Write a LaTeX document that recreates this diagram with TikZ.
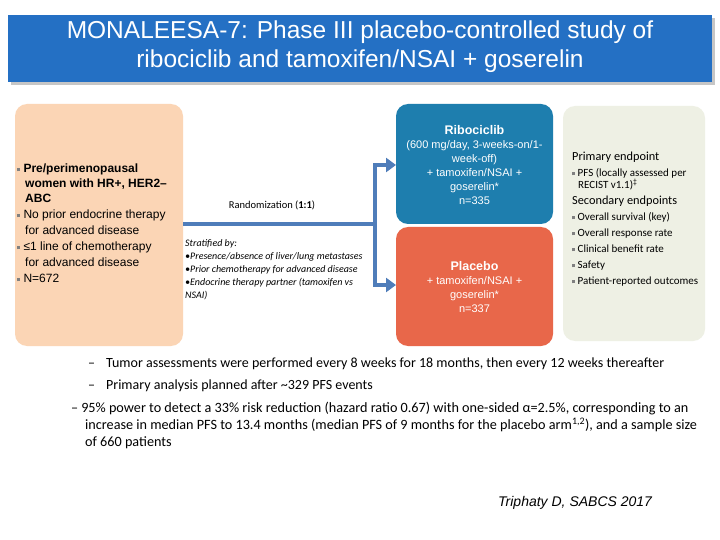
\documentclass[tikz,border=0pt]{standalone}
\usepackage{fontspec}
\setmainfont{Liberation Sans}
\newfontfamily\calfont{Carlito}
\usetikzlibrary{arrows.meta}
\definecolor{banner}{HTML}{2470C4}
\definecolor{peach}{HTML}{FBD5B5}
\definecolor{ribo}{HTML}{1E7EAE}
\definecolor{plac}{HTML}{E8674A}
\definecolor{endp}{HTML}{EEF0E4}
\definecolor{conn}{HTML}{4F7DBA}
\newcommand{\bsq}{\textcolor{gray}{\rule[0.25ex]{3pt}{3pt}}}
\tikzset{
  box/.style={rounded corners=12pt, inner sep=0pt},
  wtxt/.style={text=white, align=center, font=\fontsize{11}{14}\selectfont},
  conn/.style={draw=conn, line width=4pt},
  arr/.style={conn, -{Triangle[length=10pt,width=14pt]}},
}
\begin{document}
\begin{tikzpicture}[x=1pt,y=-1pt]
\useasboundingbox[fill=white] (0,0) rectangle (720,540);
% banner
\fill[gray!45] (11,18) rectangle (715,85);
\fill[banner] (8,15) rectangle (712,82);
\node[text=white, align=center, font=\fontsize{24.5}{29}\selectfont] (title) at (360,47) {MONALEESA-7: Phase III placebo-controlled study of\\ribociclib and tamoxifen/NSAI + goserelin};
% boxes
\fill[peach, box] (15,104) rectangle (183,346);
\coordinate (lb) at (183,224);
\fill[ribo, box] (396,104) rectangle (553,224);
\fill[plac, box] (396,227) rectangle (553,346);
\fill[endp, box] (563,106) rectangle (705,341);
\coordinate (rib) at (396,165);
\coordinate (pla) at (396,285);
% left text
\node[anchor=north west, align=left, inner sep=0pt, font=\fontsize{12}{16}\selectfont] (pop) at (17,164) {%
\bsq\ \textbf{Pre/perimenopausal}\\[-1pt]
\hspace*{8pt}\textbf{women with HR+, HER2–}\\[-1pt]
\hspace*{8pt}\textbf{ABC}\\
\bsq\ No prior endocrine therapy\\
\hspace*{8pt}for advanced disease\\
\bsq\ ≤1 line of chemotherapy\\
\hspace*{8pt}for advanced disease\\
\bsq\ N=672};
% connectors
\coordinate (j) at (375,224);
\coordinate (jt) at (375,165);
\coordinate (jb) at (375,285);
\draw[conn] (lb) -- (j);
\draw[conn, line cap=rect] (jt) -- (jb);
\draw[arr] (jt) -- (rib);
\draw[arr] (jb) -- (pla);
\node[font=\calfont\fontsize{10.5}{12}\selectfont] (rand) at (272,205) {Randomization (\textbf{1:1})};
\node[anchor=north west, align=left, inner sep=0pt, font=\calfont\itshape\fontsize{10}{13}\selectfont] (strat) at (185,239) {%
Stratified by:\\
•Presence/absence of liver/lung metastases\\
•Prior chemotherapy for advanced disease\\
•Endocrine therapy partner (tamoxifen vs\\
NSAI)};
% arm texts
\node[wtxt] (ribt) at (474.5,165) {\textbf{\fontsize{12.5}{16}\selectfont Ribociclib}\\(600 mg/day, 3-weeks-on/1-\\week-off)\\+ tamoxifen/NSAI +\\goserelin*\\n=335};
\node[wtxt] (plat) at (474.5,287) {\textbf{\fontsize{12.5}{16}\selectfont Placebo}\\+ tamoxifen/NSAI +\\goserelin*\\n=337};
% endpoints
\node[anchor=north west, align=left, inner sep=0pt, font=\calfont\fontsize{11}{16}\selectfont] (ep) at (572,152) {%
{\fontsize{12.3}{12}\selectfont Primary endpoint}\\
\bsq\ PFS (locally assessed per\\[-4pt]
\hspace*{6pt}RECIST v1.1)\textsuperscript{‡}\\
{\fontsize{12.3}{12}\selectfont Secondary endpoints}\\
\bsq\ Overall survival (key)\\
\bsq\ Overall response rate\\
\bsq\ Clinical benefit rate\\
\bsq\ Safety\\
\bsq\ Patient-reported outcomes};
% bottom text
\node[anchor=west, inner sep=0pt, font=\calfont\fontsize{14}{14}\selectfont] (b1) at (88,364) {–\hspace{11pt}Tumor assessments were performed every 8 weeks for 18 months, then every 12 weeks thereafter};
\node[anchor=west, inner sep=0pt, font=\calfont\fontsize{14}{14}\selectfont] (b2) at (88,386) {–\hspace{11pt}Primary analysis planned after \textasciitilde 329 PFS events};
\node[anchor=north west, align=left, inner sep=0pt, font=\calfont\fontsize{14.2}{17}\selectfont] (b3) at (71,402) {–\hspace{3pt}95\% power to detect a 33\% risk reduction (hazard ratio 0.67) with one-sided α=2.5\%, corresponding to an\\
\hspace*{14pt}increase in median PFS to 13.4 months (median PFS of 9 months for the placebo arm\textsuperscript{1,2}), and a sample size\\
\hspace*{14pt}of 660 patients};
\node[anchor=west, inner sep=0pt, font=\itshape\fontsize{14}{14}\selectfont] (cite) at (498,503) {Triphaty D, SABCS 2017};
\end{tikzpicture}
\end{document}
